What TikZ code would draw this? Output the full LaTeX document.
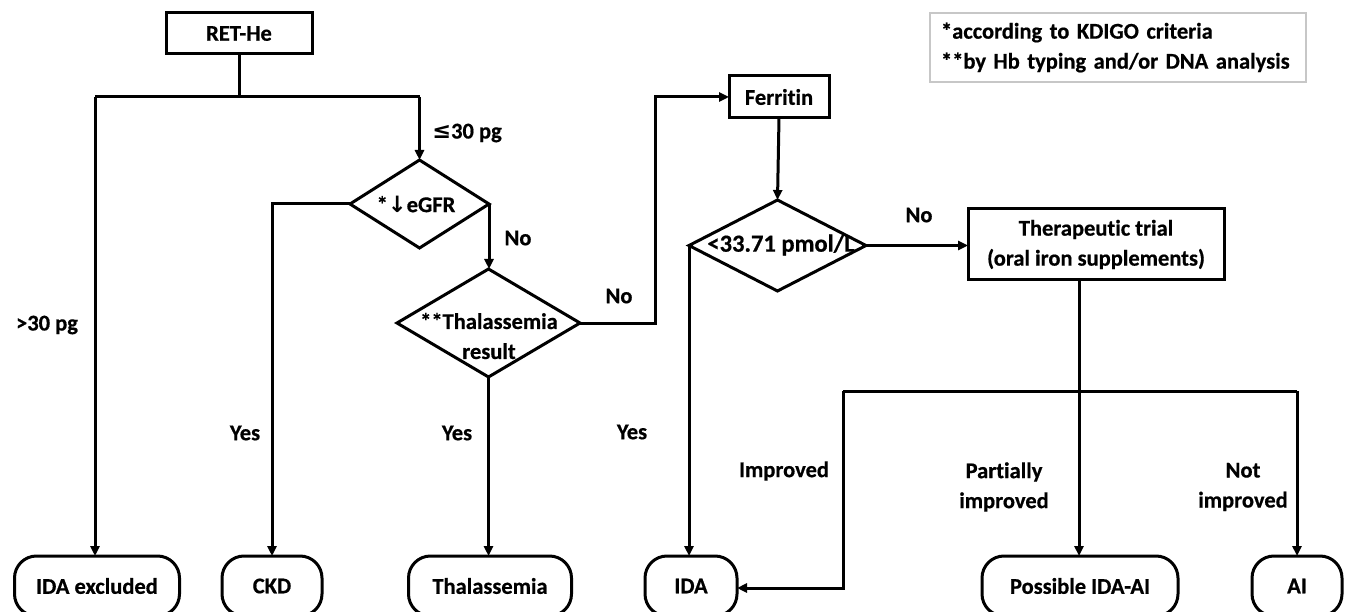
\documentclass[tikz,border=0pt]{standalone}
\usepackage{fontspec}
\setmainfont{Carlito}[Ligatures=NoCommon, BoldFeatures={FakeBold=0.6}]
\newfontfamily\symfont{DejaVu Sans}
\usetikzlibrary{shapes.geometric,arrows.meta}
\begin{document}
\begin{tikzpicture}[x=1pt,y=-1pt,
  every node/.style={font=\fontsize{22.5}{30}\selectfont\bfseries, inner sep=0pt, outer sep=0pt},
  box/.style={draw, line width=3pt, rectangle},
  dec/.style={draw, line width=3pt, diamond},
  term/.style={draw, line width=3pt, rectangle, rounded corners=22pt, minimum height=60pt},
  conn/.style={line width=3pt},
  arr/.style={line width=3pt, -{Triangle[length=10pt,width=9pt]}},
  lbl/.style={align=center}]
\fill[white] (0,0) rectangle (1349,612);
\useasboundingbox (0,0) rectangle (1349,612);

% legend
\node[draw=black!22, line width=1.2pt, anchor=north west, minimum width=376pt, minimum height=69pt,
      align=left, text width=354pt, inner xsep=11pt] (legend) at (930,13)
  {*according to KDIGO criteria\\{}**by Hb typing and/or DNA analysis};

% process boxes
\node[box, minimum width=146pt, minimum height=41pt] (ret) at (239,33.5) {RET-He};
\node[box, minimum width=100pt, minimum height=42pt] (fer) at (779,97) {Ferritin};
\node[box, minimum width=256pt, minimum height=71pt, align=center] (trial) at (1096,244.5)
  {Therapeutic trial\\(oral iron supplements)};

% decisions
\node[dec, minimum width=139pt, minimum height=88pt] (egfr) at (419.5,204) {};
\node (egfrtxt) at (416,204) {*{\symfont\bfseries ↓}eGFR};
\node[dec, minimum width=183pt, minimum height=108pt] (thal) at (488.5,323) {};
\node[align=center] (thaltxt) at (489,336) {**Thalassemia\\result};
\node[dec, minimum width=177pt, minimum height=91pt] (fd) at (777.5,245.5) {};
\node[font=\fontsize{24.5}{30}\selectfont\bfseries] (fdtxt) at (781,245) {<33.71 pmol/L};

% terminals
\node[term, minimum width=165pt] (idaex) at (97,586) {IDA excluded};
\node[term, minimum width=100pt] (ckd) at (272,586) {CKD};
\node[term, minimum width=163pt] (thalbox) at (490,586) {Thalassemia};
\node[term, minimum width=92pt] (ida) at (691,586) {IDA};
\node[term, minimum width=196pt] (pia) at (1080,586) {Possible IDA-AI};
\node[term, minimum width=90pt] (ai) at (1297,586) {AI};

% junction coordinates
\coordinate (jl) at (95,97);
\coordinate (jr) at (419.5,97);
\coordinate (tj) at (655,323);
\coordinate (bs) at (1079,280);
\coordinate (bl) at (843,391);
\coordinate (br) at (1297,391);

% connectors
\draw[conn] (ret.south) -- (ret.south |- jl);
\draw[conn] (jl) -- (jr);
\draw[arr] (jl) -- (jl |- idaex.north);
\draw[arr] (jr) -- (egfr.north);
\draw[arr] (egfr.west) -| (ckd.north);
\draw[arr] (egfr.east) -- (egfr.east |- thal.north);
\draw[arr] (thal.south) -- (thal.south |- thalbox.north);
\draw[arr] (thal.east) -- (tj) |- (fer.west);
\draw[arr] (fer.south) -- (fd.north);
\draw[arr] (fd.west) -- (fd.west |- ida.north);
\draw[arr] (fd.east) -- (fd.east -| trial.west);
\draw[arr] (bs) -- (bs |- pia.north);
\draw[conn] (bl) -- (br);
\draw[arr] (br) -- (ai.north);
\draw[arr] (bl) -- (bl |- 0,588) -- (ida.east |- 0,588);

% labels
\node (l1) at (467,133) {{\symfont\bfseries ≤}30 pg};
\node (l2) at (47,325) {>30 pg};
\node (l3) at (518,238) {No};
\node (l4) at (619,296) {No};
\node (l5) at (919,215) {No};
\node (l6) at (245,433) {Yes};
\node (l7) at (457,433) {Yes};
\node (l8) at (632,432) {Yes};
\node (l9) at (784,471) {Improved};
\node[lbl] (l10) at (1004,487) {Partially\\improved};
\node[lbl] (l11) at (1243,487) {Not\\improved};
\end{tikzpicture}
\end{document}
